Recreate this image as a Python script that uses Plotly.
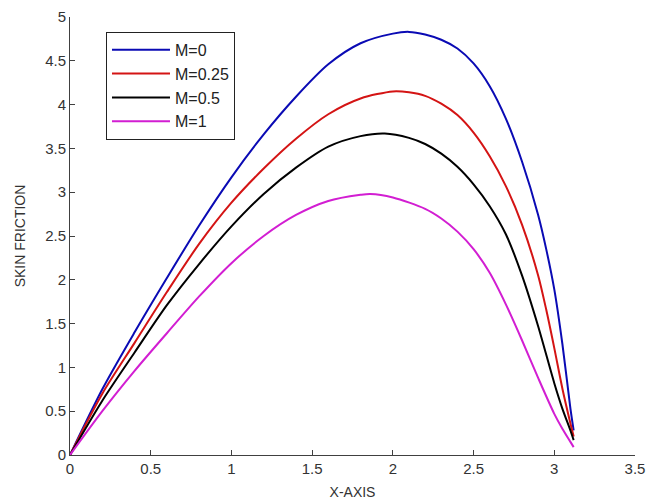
import plotly.graph_objects as go

# Data
x_m0 = [0, 0.2, 0.4, 0.6, 0.8, 1.0, 1.2, 1.4, 1.6, 1.8, 2.0, 2.1, 2.2, 2.3, 2.4, 2.5, 2.6, 2.7, 2.8, 2.9, 2.95, 3.0, 3.05, 3.1, 3.12]
y_m0 = [0, 0.75, 1.40, 2.02, 2.62, 3.17, 3.66, 4.09, 4.46, 4.70, 4.81, 4.83, 4.80, 4.74, 4.64, 4.47, 4.21, 3.84, 3.35, 2.74, 2.35, 1.89, 1.27, 0.53, 0.28]

x_m025 = [0, 0.2, 0.4, 0.6, 0.8, 1.0, 1.2, 1.4, 1.6, 1.8, 2.0, 2.1, 2.2, 2.3, 2.4, 2.5, 2.6, 2.7, 2.8, 2.9, 2.95, 3.0, 3.05, 3.1, 3.12]
y_m025 = [0, 0.70, 1.28, 1.86, 2.41, 2.88, 3.27, 3.61, 3.89, 4.07, 4.15, 4.14, 4.10, 4.01, 3.88, 3.68, 3.41, 3.07, 2.63, 2.05, 1.66, 1.22, 0.76, 0.36, 0.21]

x_m05 = [0, 0.2, 0.4, 0.6, 0.8, 1.0, 1.2, 1.4, 1.6, 1.8, 1.95, 2.1, 2.2, 2.3, 2.4, 2.5, 2.6, 2.7, 2.8, 2.9, 3.0, 3.05, 3.1, 3.12]
y_m05 = [0, 0.62, 1.17, 1.71, 2.18, 2.61, 2.98, 3.28, 3.52, 3.64, 3.67, 3.62, 3.55, 3.44, 3.29, 3.09, 2.84, 2.52, 2.05, 1.47, 0.82, 0.53, 0.28, 0.17]

x_m1 = [0, 0.2, 0.4, 0.6, 0.8, 1.0, 1.2, 1.4, 1.6, 1.8, 1.86, 2.0, 2.2, 2.3, 2.4, 2.5, 2.6, 2.7, 2.8, 2.9, 3.0, 3.05, 3.1, 3.12]
y_m1 = [0, 0.50, 0.96, 1.39, 1.81, 2.19, 2.50, 2.74, 2.90, 2.97, 2.98, 2.94, 2.81, 2.70, 2.55, 2.35, 2.08, 1.72, 1.31, 0.88, 0.47, 0.30, 0.15, 0.09]

series_names = ["M=0", "M=0.25", "M=0.5", "M=1"]
series_colors = ["#0a0ab4", "#d41414", "#000000", "#d21ed2"]

x_ticks = [0, 0.5, 1, 1.5, 2, 2.5, 3, 3.5]
y_ticks = [0, 0.5, 1, 1.5, 2, 2.5, 3, 3.5, 4, 4.5, 5]

fig = go.Figure()
for i, (xs, ys) in enumerate([(x_m0, y_m0), (x_m025, y_m025), (x_m05, y_m05), (x_m1, y_m1)]):
    fig.add_trace(go.Scatter(
        x=xs, y=ys, mode="lines", name=series_names[i],
        legendgroup=series_names[i],
        line=dict(color=series_colors[i], width=2, shape="spline", smoothing=0.8),
    ))

font_family = "Liberation Sans, Arial, sans-serif"
fig.update_layout(
    width=652, height=493,
    margin=dict(l=62, r=25, t=9, b=46),
    paper_bgcolor="white", plot_bgcolor="white",
    font=dict(family=font_family, size=15, color="#333333"),
    showlegend=True,
    legend=dict(
        x=0.0637, y=0.966, xanchor="left", yanchor="top",
        bgcolor="white", bordercolor="#222222", borderwidth=1,
        font=dict(family=font_family, size=16, color="#222222"),
        tracegroupgap=0, itemwidth=58,
    ),
)
fig.update_xaxes(
    range=[0, 3.5], tickvals=x_ticks, ticks="inside", ticklen=5,
    showline=True, linecolor="#404040", linewidth=1, tickcolor="#404040",
    showgrid=False, zeroline=False, mirror=False, automargin=False,
    ticklabeloverflow="allow",
    title=dict(text="X-AXIS", font=dict(size=14, color="#333333"), standoff=11),
)
fig.update_yaxes(
    range=[0, 5], tickvals=y_ticks, ticks="inside", ticklen=5,
    showline=True, linecolor="#404040", linewidth=1, tickcolor="#404040",
    showgrid=False, zeroline=False, mirror=False, automargin=False,
    ticklabeloverflow="allow",
    title=dict(text="SKIN FRICTION", font=dict(size=14, color="#333333"), standoff=16),
)

fig.write_html("out.html")
